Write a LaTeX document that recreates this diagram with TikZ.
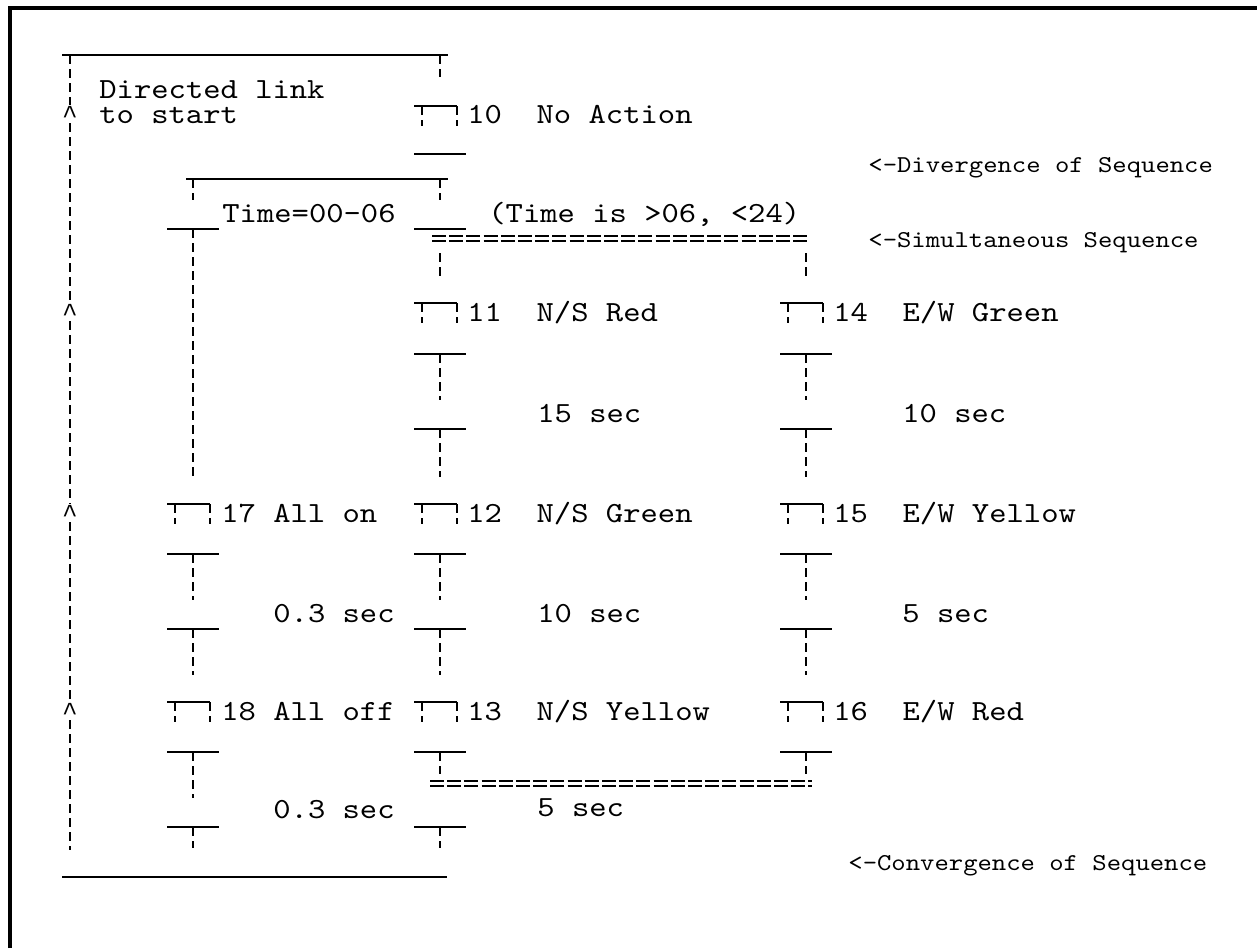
\documentclass[tikz,border=0pt]{standalone}
\usepackage{fontspec}
\newfontfamily\courtt{lmmono10-regular.otf}[FakeStretch=1.13]
\newfontfamily\hattt{Liberation Mono}
\newcommand{\bigtt}{\courtt\fontsize{14.6}{12.5}\selectfont}
\newcommand{\smalltt}{\courtt\fontsize{12.1}{12}\selectfont}

\begin{document}
\begin{tikzpicture}[x=0.5pt, y=-0.5pt,
    rail/.style={line width=1.2pt},
    dashrail/.style={line width=1.2pt, dash pattern=on 4.5pt off 2.5pt},
    dbl/.style={line width=0.7pt, dash pattern=on 7pt off 1.6pt},
    lbl/.style={font=\bigtt, anchor=base west, inner sep=0pt},
    note/.style={font=\smalltt, anchor=base west, inner sep=0pt},
    hat/.style={font=\hattt\fontsize{13}{13}\selectfont, anchor=base, inner sep=0pt}]
    \useasboundingbox (0,0) rectangle (1257,948);

    % Page frame (left and top edges)
    \draw[line width=1.6pt] (10,948) -- (10,8) -- (1257,8);

    % Directed link back to start
    \draw[rail] (62,55) -- (448,55);
    \draw[rail] (62,877) -- (447,877);
    \node[lbl, align=left] (link) at (99,123) {Directed~link\\to~start};
    \coordinate (ltop) at (70,55);
    \coordinate (lbot) at (70,850);
    \foreach \y/\n in {123/h1, 321/h2, 522/h3, 720/h4}
        \node[hat] (\n) at (70,\y) {\textasciicircum};
    \draw[dashrail] (ltop) -- (h1) -- (h2) -- (h3) -- (h4) -- (lbot);
    \draw[dashrail] (440,55) -- (440,77);

    % Steps
    \foreach \c/\y in {440/106, 440/303, 806/303, 193/504, 440/504,
                       806/504, 193/702, 440/702, 806/702} {
        \draw[rail] (\c-26,\y) -- (\c+17,\y);
        \draw[dashrail] (\c-18,\y) -- ++(0,20) (\c+17,\y) -- ++(0,20);
    }

    % Transitions without tail
    \foreach \c/\y in {440/154, 440/229}
        \draw[rail] (\c-26,\y) -- (\c+26,\y);

    % Transitions with tail
    \foreach \c/\y/\l in {193/229/248, 440/354/46, 806/354/46, 440/429/48,
                          806/429/48, 193/554/46, 440/554/46, 806/554/46,
                          193/629/46, 440/629/46, 806/629/46, 193/752/46,
                          440/752/22, 806/752/22, 193/827/21, 440/827/21} {
        \draw[rail] (\c-26,\y) -- (\c+26,\y);
        \draw[dashrail] (\c,\y) -- ++(0,\l);
    }

    % Divergence
    \draw[rail] (186,179) -- (448,179);
    \draw[dashrail] (193,179) -- ++(0,21) (440,179) -- ++(0,21);

    % Simultaneous split and join
    \draw[dbl] (432,236) -- (808,236) (432,241) -- (808,241);
    \draw[dashrail] (440,253) -- (440,277) (806,253) -- (806,277);
    \draw[dbl] (430,781) -- (812,781) (430,786) -- (812,786);

    % Step and timer labels
    \node[lbl] (s10) at (467,123) {10~~No~Action};
    \node[lbl] (t1) at (222,222) {Time=00-06};
    \node[lbl] (t2) at (488,222) {(Time~is~>06,~<24)};
    \node[lbl] (s11) at (467,321) {11~~N/S~Red};
    \node[lbl] (s14) at (833,321) {14~~E/W~Green};
    \node[lbl] (d11) at (537,422) {15~sec};
    \node[lbl] (d14) at (902,422) {10~sec};
    \node[lbl] (s17) at (221,522) {17~All~on};
    \node[lbl] (s12) at (467,522) {12~~N/S~Green};
    \node[lbl] (s15) at (833,522) {15~~E/W~Yellow};
    \node[lbl] (d17) at (273,622) {0.3~sec};
    \node[lbl] (d12) at (537,622) {10~sec};
    \node[lbl] (d15) at (902,622) {5~sec};
    \node[lbl] (s18) at (221,720) {18~All~off};
    \node[lbl] (s13) at (467,720) {13~~N/S~Yellow};
    \node[lbl] (s16) at (833,720) {16~~E/W~Red};
    \node[lbl] (d18) at (273,818) {0.3~sec};
    \node[lbl] (d13) at (537,816) {5~sec};

    % Notes
    \node[note] (ndiv) at (868,172) {<-Divergence~of~Sequence};
    \node[note] (nsim) at (868,247) {<-Simultaneous~Sequence};
    \node[note] (nconv) at (848,870) {<-Convergence~of~Sequence};
\end{tikzpicture}
\end{document}
